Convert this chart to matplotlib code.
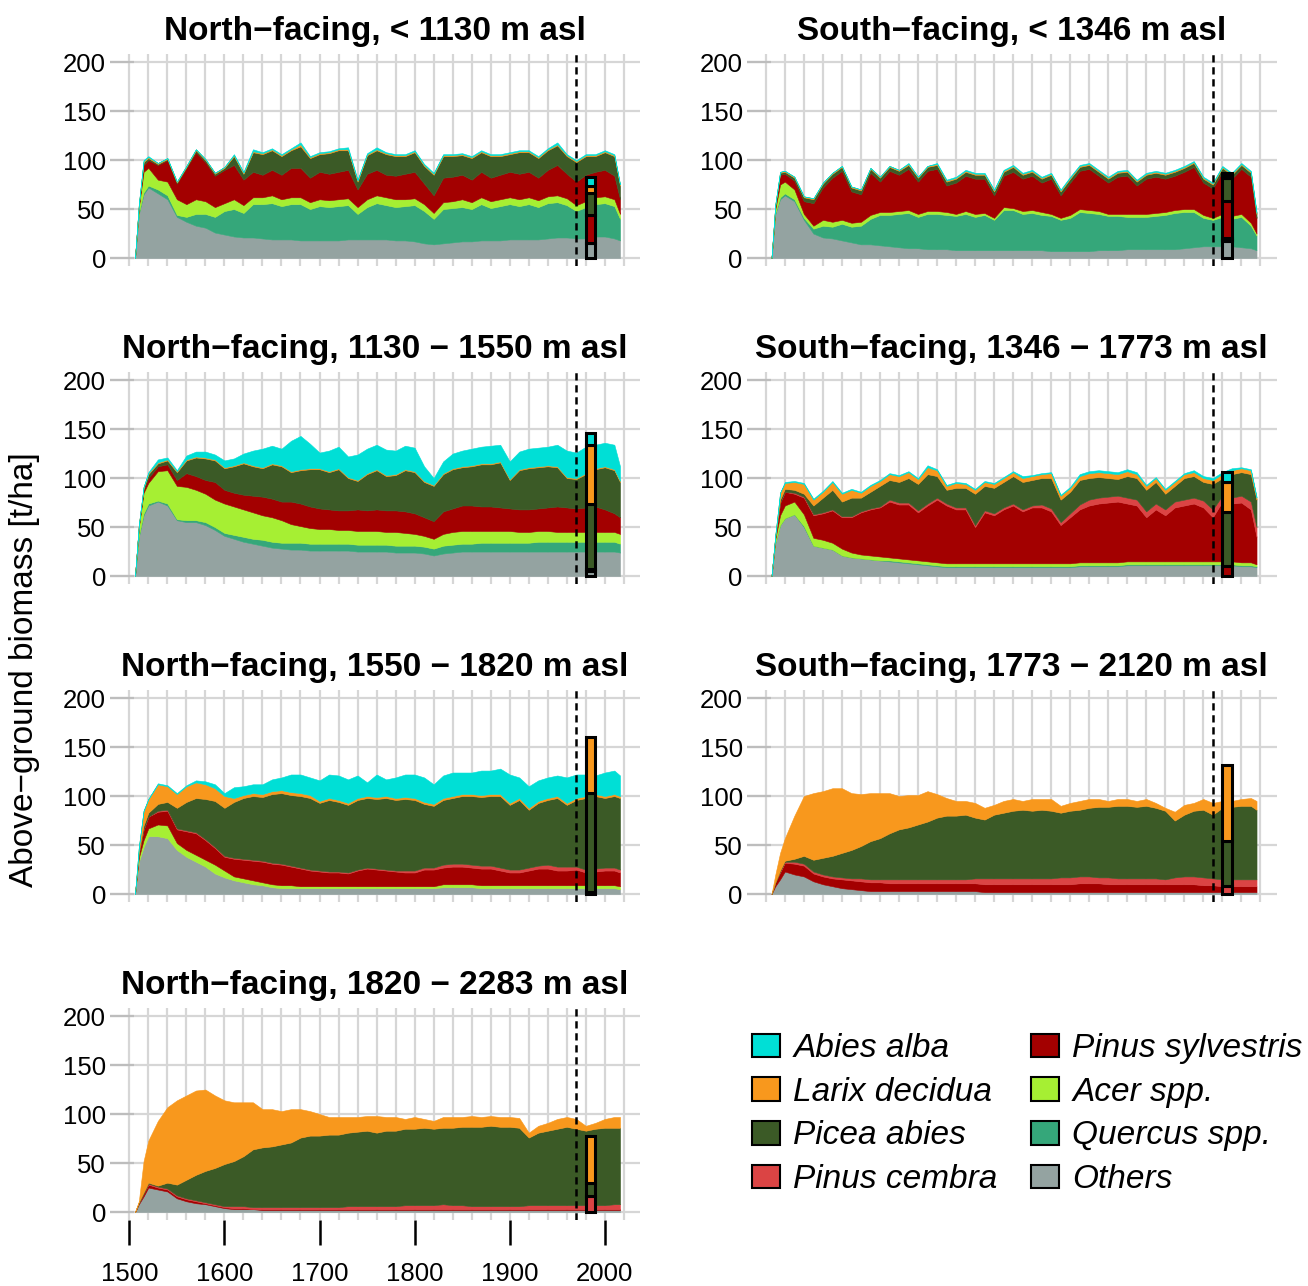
import numpy as np
import matplotlib.pyplot as plt
from matplotlib.patches import Patch

plt.rcParams['font.family'] = ['Liberation Sans', 'DejaVu Sans']

# simulation years (first = start of the run)
years = [1506, 1510, 1515, 1520,
         1530, 1540, 1550, 1560, 1570, 1580, 1590, 1600,
         1610, 1620, 1630, 1640, 1650, 1660, 1670, 1680, 1690, 1700,
         1710, 1720, 1730, 1740, 1750, 1760, 1770, 1780, 1790, 1800,
         1810, 1820, 1830, 1840, 1850, 1860, 1870, 1880, 1890, 1900,
         1910, 1920, 1930, 1940, 1950, 1960, 1970, 1980, 1990, 2000,
         2010, 2016]

species = ["Others", "Quercus spp.", "Acer spp.", "Pinus sylvestris",
           "Pinus cembra", "Picea abies", "Larix decidua", "Abies alba"]
colours = {"Others": "#94A3A1", "Quercus spp.": "#35A77A", "Acer spp.": "#A6EF33",
           "Pinus sylvestris": "#A30000", "Pinus cembra": "#DB4444",
           "Picea abies": "#3B5A26", "Larix decidua": "#F8981D", "Abies alba": "#00DFD6"}

# values below = upper edge of each stacked band (cumulative biomass, t/ha)
# ---- North-facing, < 1130 m
n1_others = [0, 45, 65, 72, 66, 60, 42, 37, 33, 31, 26, 24,
             22, 21, 21, 20, 19, 19, 19, 18, 18, 18, 18, 18, 19, 19, 19, 19, 19, 18, 18, 17,
             15, 14, 15, 16, 17, 17, 18, 18, 18, 19, 19, 19, 19, 20, 21, 21, 20, 20, 22, 22, 20, 18]
n1_quercus = [0, 46, 67, 74, 70, 64, 44, 42, 45, 45, 42, 48,
              50, 46, 55, 55, 56, 53, 55, 55, 50, 53, 52, 53, 54, 45, 52, 56, 54, 52, 53, 54,
              48, 40, 50, 51, 52, 50, 55, 51, 53, 55, 53, 55, 52, 56, 57, 54, 48, 52, 55, 56, 53, 40]
n1_acer = [0, 52, 88, 92, 80, 78, 60, 55, 60, 58, 52, 56,
           60, 54, 62, 62, 64, 60, 62, 62, 57, 60, 59, 60, 61, 52, 60, 64, 62, 60, 60, 61,
           55, 46, 57, 58, 60, 57, 62, 58, 60, 62, 60, 62, 59, 63, 64, 61, 54, 58, 62, 63, 60, 45]
n1_sylv = [0, 53, 95, 100, 95, 100, 76, 92, 108, 98, 84, 90,
           95, 80, 88, 85, 90, 85, 92, 92, 82, 88, 86, 88, 90, 70, 86, 90, 85, 84, 86, 88,
           76, 64, 82, 83, 85, 80, 88, 82, 85, 88, 86, 88, 82, 90, 95, 86, 78, 85, 88, 90, 84, 60]
n1_picea = [0, 54, 98, 102, 96, 101, 77, 93, 110, 100, 86, 92,
            104, 86, 108, 106, 110, 104, 110, 114, 102, 106, 107, 110, 110, 78, 105, 110, 106, 104, 104, 108,
            94, 85, 104, 104, 105, 102, 108, 104, 104, 106, 108, 108, 102, 110, 115, 104, 98, 104, 104, 108, 104, 74]
n1_larix = [0, 55, 99, 103, 97, 102, 78, 94, 111, 101, 87, 93,
            105, 87, 109, 107, 111, 105, 111, 116, 103, 107, 108, 111, 111, 79, 106, 111, 107, 105, 105, 109,
            95, 86, 105, 105, 106, 103, 109, 105, 105, 107, 109, 109, 103, 111, 116, 105, 99, 105, 105, 109, 105, 75]
n1_abies = [0, 55, 100, 104, 97, 102, 78, 94, 111, 101, 87, 93,
            106, 88, 111, 108, 112, 106, 112, 118, 104, 108, 109, 112, 113, 80, 107, 113, 108, 106, 106, 110,
            96, 87, 106, 106, 107, 104, 110, 106, 106, 108, 110, 110, 104, 112, 118, 106, 100, 106, 106, 110, 106, 75]

# ---- South-facing, < 1346 m
s1_others = [0, 45, 60, 64, 58, 39, 25, 21, 20, 18, 16, 14,
             14, 13, 12, 11, 10, 10, 9, 9, 9, 8, 8, 8, 8, 8, 8, 8, 8, 8, 8, 7,
             7, 7, 7, 7, 8, 8, 8, 9, 9, 9, 9, 9, 9, 10, 11, 12, 12, 12, 12, 11, 10, 8]
s1_quercus = [0, 46, 62, 66, 60, 41, 30, 33, 32, 35, 32, 33,
              40, 44, 44, 45, 46, 42, 45, 45, 44, 43, 45, 42, 44, 39, 49, 49, 45, 46, 44, 43,
              39, 41, 47, 46, 45, 43, 43, 42, 42, 42, 43, 44, 46, 47, 47, 41, 39, 42, 40, 42, 33, 23]
s1_acer = [0, 50, 75, 78, 70, 45, 33, 39, 37, 39, 36, 37,
           44, 47, 47, 48, 49, 45, 48, 48, 47, 45, 48, 45, 46, 41, 52, 51, 48, 49, 47, 45,
           41, 44, 50, 49, 48, 45, 45, 45, 45, 45, 46, 47, 49, 50, 50, 44, 41, 45, 43, 45, 36, 25]
s1_sylv = [0, 53, 85, 86, 79, 58, 56, 72, 82, 89, 68, 65,
           87, 78, 89, 85, 91, 78, 89, 91, 74, 77, 84, 81, 81, 64, 84, 88, 81, 84, 77, 81,
           64, 77, 89, 91, 84, 77, 83, 84, 74, 81, 83, 81, 84, 88, 93, 77, 71, 88, 81, 91, 83, 41]
s1_picea = [0, 54, 87, 88, 82, 62, 60, 76, 86, 93, 72, 69,
            91, 82, 93, 89, 95, 82, 93, 95, 78, 81, 88, 85, 85, 68, 88, 93, 85, 88, 81, 85,
            68, 81, 93, 95, 88, 81, 87, 88, 78, 85, 87, 85, 88, 92, 97, 81, 75, 92, 85, 95, 87, 45]
s1_larix = [0, 55, 88, 89, 83, 63, 61, 77, 87, 94, 73, 70,
            92, 83, 94, 90, 96, 83, 94, 96, 79, 82, 89, 86, 86, 69, 89, 94, 86, 89, 82, 86,
            69, 82, 94, 96, 89, 82, 88, 89, 79, 86, 88, 86, 89, 93, 98, 82, 76, 93, 86, 96, 88, 46]
s1_abies = [0, 55, 88, 89, 83, 63, 61, 77, 87, 94, 73, 70,
            92, 83, 94, 90, 97, 83, 94, 97, 80, 83, 90, 87, 87, 70, 90, 95, 87, 90, 83, 87,
            70, 83, 95, 97, 90, 83, 89, 90, 80, 87, 89, 87, 90, 94, 99, 83, 77, 94, 87, 97, 89, 47]

# ---- North-facing, 1130 - 1550 m
n2_others = [0, 40, 62, 72, 76, 72, 57, 55, 55, 52, 47, 41,
             38, 35, 33, 31, 29, 28, 27, 27, 26, 26, 26, 26, 26, 25, 25, 25, 25, 24, 24, 24,
             23, 21, 23, 24, 25, 25, 25, 25, 25, 25, 25, 25, 25, 25, 25, 25, 25, 25, 25, 25, 25, 24]
n2_quercus = [0, 41, 64, 74, 77, 74, 58, 57, 57, 55, 50, 44,
              42, 40, 38, 37, 35, 34, 34, 34, 33, 33, 33, 33, 33, 32, 32, 32, 32, 31, 31, 31,
              30, 28, 31, 32, 33, 33, 34, 34, 34, 34, 34, 34, 35, 35, 35, 35, 35, 35, 35, 35, 35, 33]
n2_acer = [0, 50, 85, 95, 107, 108, 92, 91, 88, 84, 78, 74,
           71, 68, 65, 62, 60, 57, 53, 51, 49, 48, 48, 47, 47, 46, 46, 46, 45, 45, 44, 43,
           41, 38, 43, 45, 46, 46, 46, 46, 46, 46, 45, 45, 46, 46, 45, 45, 45, 45, 45, 45, 45, 43]
n2_sylv = [0, 51, 88, 100, 112, 114, 98, 105, 102, 98, 96, 88,
           85, 83, 82, 81, 79, 76, 76, 74, 71, 69, 68, 67, 67, 68, 67, 68, 67, 67, 66, 64,
           60, 56, 66, 69, 72, 72, 71, 71, 70, 69, 68, 68, 69, 70, 71, 70, 69, 70, 71, 68, 64, 60]
n2_picea = [0, 52, 90, 104, 115, 118, 106, 118, 121, 120, 118, 110,
            112, 115, 112, 110, 114, 112, 106, 108, 109, 109, 106, 109, 100, 97, 104, 108, 102, 103, 108, 106,
            96, 92, 104, 109, 111, 112, 114, 114, 116, 98, 108, 110, 111, 112, 111, 100, 99, 104, 109, 111, 108, 96]
n2_larix = [0, 52, 91, 105, 116, 119, 107, 119, 122, 121, 119, 111,
            113, 116, 113, 111, 115, 113, 107, 109, 110, 110, 107, 110, 101, 98, 105, 109, 103, 104, 109, 107,
            97, 93, 105, 110, 112, 113, 115, 115, 117, 99, 109, 111, 112, 113, 112, 101, 100, 105, 110, 112, 109, 97]
n2_abies = [0, 52, 91, 106, 119, 121, 108, 123, 127, 127, 124, 118,
            120, 125, 128, 130, 133, 130, 138, 143, 135, 126, 128, 132, 122, 124, 130, 134, 129, 128, 133, 131,
            112, 100, 117, 125, 128, 130, 132, 133, 134, 117, 127, 130, 131, 132, 134, 128, 126, 132, 134, 136, 134, 112]

# ---- South-facing, 1346 - 1773 m
s2_others = [0, 34, 52, 59, 63, 50, 31, 29, 27, 21, 19, 18,
             17, 16, 15, 14, 13, 12, 11, 10, 9, 9, 9, 9, 9, 9, 9, 9, 9, 9, 9, 9,
             9, 9, 10, 10, 10, 10, 10, 11, 11, 11, 11, 11, 11, 11, 11, 11, 11, 11, 11, 10, 10, 9]
s2_quercus = [0, 34, 52, 59, 63, 51, 31, 29, 27, 21, 19, 18,
              17, 16, 16, 15, 14, 13, 12, 11, 10, 10, 10, 10, 10, 10, 10, 10, 10, 10, 10, 10,
              10, 10, 11, 11, 11, 11, 11, 12, 12, 12, 12, 12, 12, 12, 12, 12, 12, 12, 12, 11, 11, 10]
s2_acer = [0, 38, 62, 72, 76, 63, 39, 37, 34, 28, 24, 22,
           21, 20, 19, 18, 17, 16, 15, 14, 13, 13, 13, 13, 13, 13, 13, 13, 13, 13, 13, 13,
           13, 13, 14, 14, 14, 14, 14, 15, 15, 15, 15, 15, 15, 15, 15, 15, 15, 15, 15, 14, 14, 12]
s2_sylv = [0, 40, 75, 86, 84, 80, 62, 64, 67, 60, 60, 65,
           68, 70, 76, 73, 73, 65, 72, 78, 72, 68, 68, 50, 65, 62, 68, 72, 66, 70, 70, 66,
           52, 60, 68, 72, 74, 75, 76, 74, 72, 60, 68, 62, 70, 72, 74, 70, 60, 76, 74, 75, 68, 40]
s2_cembra = [0, 40, 75, 86, 85, 81, 63, 65, 68, 61, 61, 66,
             69, 71, 78, 75, 75, 67, 74, 80, 74, 70, 70, 52, 67, 64, 70, 74, 68, 72, 73, 69,
             55, 64, 73, 78, 80, 81, 82, 80, 78, 66, 74, 68, 76, 78, 80, 77, 68, 82, 80, 82, 76, 50]
s2_picea = [0, 41, 78, 89, 88, 84, 72, 80, 88, 76, 80, 80,
            86, 92, 98, 96, 100, 94, 104, 102, 88, 90, 90, 84, 92, 90, 96, 102, 96, 98, 100, 100,
            78, 86, 98, 100, 101, 100, 99, 102, 100, 88, 96, 84, 92, 100, 102, 96, 94, 100, 104, 106, 104, 78]
s2_larix = [0, 42, 85, 95, 96, 94, 78, 86, 96, 84, 88, 85,
            92, 97, 104, 102, 106, 99, 111, 108, 92, 95, 94, 88, 96, 94, 100, 106, 100, 102, 104, 105,
            82, 90, 102, 105, 106, 105, 104, 107, 104, 92, 100, 88, 96, 104, 106, 100, 98, 104, 108, 110, 108, 80]
s2_abies = [0, 42, 85, 96, 97, 95, 79, 87, 97, 85, 89, 86,
            93, 98, 105, 103, 107, 100, 113, 109, 93, 96, 95, 89, 97, 95, 101, 107, 102, 103, 105, 106,
            83, 91, 104, 107, 108, 107, 106, 109, 106, 93, 101, 89, 97, 105, 108, 102, 100, 106, 110, 111, 109, 81]

# ---- North-facing, 1550 - 1820 m
n3_others = [0, 33, 48, 59, 59, 57, 45, 38, 33, 28, 21, 17,
             14, 12, 10, 9, 7, 6, 6, 6, 6, 6, 6, 6, 6, 6, 6, 6, 6, 6, 6, 6,
             6, 6, 7, 7, 7, 7, 6, 6, 6, 6, 6, 6, 6, 6, 6, 6, 6, 6, 6, 6, 6, 5]
n3_acer = [0, 37, 55, 67, 71, 70, 52, 45, 40, 35, 30, 24,
           18, 16, 14, 12, 10, 9, 9, 8, 8, 8, 8, 8, 8, 8, 8, 8, 8, 8, 8, 8,
           8, 8, 10, 10, 10, 10, 9, 9, 9, 9, 9, 9, 9, 9, 9, 9, 9, 9, 9, 9, 9, 8]
n3_sylv = [0, 42, 66, 79, 84, 85, 66, 64, 62, 55, 47, 38,
           36, 35, 34, 33, 31, 30, 28, 26, 24, 23, 22, 22, 21, 24, 26, 25, 24, 23, 22, 22,
           25, 25, 27, 28, 28, 27, 26, 26, 24, 22, 22, 24, 26, 26, 24, 24, 25, 22, 23, 24, 24, 22]
n3_cembra = [0, 42, 66, 79, 85, 86, 67, 65, 63, 56, 48, 39,
             37, 36, 35, 34, 32, 31, 29, 27, 25, 24, 23, 23, 22, 25, 27, 26, 25, 24, 24, 24,
             27, 27, 30, 31, 31, 30, 29, 29, 27, 25, 25, 27, 29, 30, 28, 28, 28, 25, 26, 27, 27, 25]
n3_picea = [0, 43, 70, 83, 92, 94, 88, 94, 98, 97, 95, 88,
            94, 98, 100, 99, 102, 103, 101, 100, 98, 93, 96, 94, 91, 96, 98, 97, 98, 96, 97, 96,
            92, 90, 96, 98, 100, 100, 99, 100, 100, 91, 96, 86, 93, 96, 98, 91, 96, 98, 100, 98, 100, 98]
n3_larix = [0, 48, 85, 97, 112, 110, 102, 110, 114, 112, 108, 100,
            98, 101, 103, 102, 105, 106, 104, 103, 101, 95, 98, 96, 93, 98, 100, 99, 100, 98, 99, 98,
            94, 92, 98, 100, 102, 102, 101, 102, 102, 93, 98, 88, 95, 98, 100, 93, 98, 100, 102, 100, 102, 100]
n3_abies = [0, 48, 85, 97, 113, 111, 103, 111, 116, 115, 112, 103,
            109, 110, 112, 112, 117, 119, 122, 122, 119, 116, 122, 121, 117, 121, 114, 122, 117, 119, 122, 122,
            119, 112, 121, 124, 124, 124, 126, 126, 128, 122, 119, 110, 116, 119, 121, 119, 122, 122, 121, 124, 126, 121]

# ---- South-facing, 1773 - 2120 m
s3_others = [0, 8, 15, 23, 20, 18, 13, 10, 8, 6, 5, 4,
             3, 3, 3, 3, 3, 3, 3, 3, 3, 3, 3, 3, 2, 2, 2, 2, 2, 2, 2, 2,
             2, 2, 2, 2, 2, 2, 2, 2, 2, 2, 2, 2, 2, 2, 2, 2, 2, 2, 2, 2, 2, 2]
s3_sylv = [0, 12, 22, 32, 31, 29, 21, 18, 16, 15, 14, 13,
           12, 12, 11, 11, 11, 11, 11, 11, 11, 11, 11, 11, 10, 10, 10, 10, 10, 10, 10, 10,
           10, 10, 11, 11, 11, 10, 10, 10, 10, 10, 10, 10, 10, 10, 10, 9, 9, 8, 8, 8, 8, 8]
s3_cembra = [0, 12, 23, 33, 33, 31, 23, 20, 18, 17, 16, 16,
             15, 15, 15, 15, 15, 15, 15, 15, 15, 15, 15, 16, 16, 16, 16, 16, 16, 16, 16, 16,
             17, 17, 18, 18, 17, 17, 16, 16, 16, 16, 16, 15, 17, 18, 18, 17, 16, 15, 15, 15, 15, 15]
s3_picea = [0, 12, 24, 34, 36, 39, 35, 37, 39, 42, 45, 49,
            54, 57, 62, 66, 68, 71, 74, 78, 80, 80, 81, 78, 76, 81, 83, 85, 86, 85, 86, 85,
            83, 85, 86, 88, 89, 89, 90, 90, 89, 90, 88, 85, 75, 81, 85, 86, 81, 88, 89, 90, 90, 86]
s3_larix = [0, 20, 42, 57, 80, 100, 103, 105, 108, 108, 103, 102,
            103, 103, 103, 100, 101, 101, 105, 102, 98, 95, 95, 93, 88, 91, 95, 97, 95, 97, 97, 97,
            90, 93, 95, 97, 97, 95, 97, 97, 95, 97, 93, 88, 84, 91, 93, 97, 93, 95, 95, 97, 98, 95]

# ---- North-facing, 1820 - 2283 m
n4_others = [0, 8, 16, 25, 23, 21, 14, 11, 9, 8, 6, 4,
             3, 3, 3, 2, 2, 2, 2, 2, 2, 2, 2, 2, 2, 2, 2, 2, 2, 2, 2, 2,
             2, 2, 2, 2, 2, 2, 2, 2, 2, 2, 2, 2, 2, 2, 2, 2, 2, 2, 2, 2, 2, 2]
n4_sylv = [0, 9, 19, 28, 25, 23, 16, 13, 11, 9, 7, 5,
           4, 4, 3, 3, 3, 3, 3, 3, 3, 3, 3, 3, 3, 3, 3, 3, 3, 3, 3, 3,
           3, 3, 3, 3, 3, 3, 3, 3, 3, 3, 3, 3, 3, 3, 3, 3, 3, 3, 3, 3, 3, 3]
n4_cembra = [0, 9, 19, 29, 26, 24, 17, 14, 12, 10, 8, 6,
             6, 6, 5, 5, 5, 5, 5, 5, 5, 5, 5, 5, 6, 6, 6, 6, 6, 6, 7, 7,
             7, 7, 8, 7, 7, 6, 6, 6, 6, 6, 6, 7, 7, 7, 7, 7, 7, 7, 7, 7, 8, 8]
n4_picea = [0, 10, 20, 30, 27, 30, 28, 33, 38, 42, 45, 49,
            52, 57, 64, 66, 67, 69, 71, 76, 78, 78, 79, 79, 81, 82, 83, 81, 83, 83, 85, 85,
            86, 85, 86, 86, 87, 87, 87, 88, 87, 87, 86, 76, 81, 83, 85, 87, 85, 83, 85, 86, 86, 86]
n4_larix = [0, 11, 52, 73, 93, 107, 114, 119, 124, 125, 119, 114,
            112, 112, 112, 105, 105, 103, 105, 105, 103, 100, 97, 97, 97, 97, 98, 98, 97, 97, 95, 97,
            95, 93, 97, 97, 97, 98, 97, 98, 97, 97, 96, 81, 88, 91, 95, 97, 95, 88, 91, 95, 97, 97]

# inventory bars (t/ha per species, order as in `species`)
bar_year = 1985
bar_n1 = [15, 0, 0, 29, 0, 22, 8, 9]
bar_s1 = [17, 1, 2, 38, 0, 24, 2, 3]
bar_n2 = [5, 0, 0, 2, 0, 67, 60, 12]
bar_s2 = [0, 0, 0, 10, 0, 55, 31, 10]
bar_n3 = [0, 0, 0, 2, 0, 101, 57, 0]
bar_s3 = [0, 0, 0, 0, 8, 46, 78, 0]
bar_n4 = [0, 0, 0, 0, 16, 14, 48, 0]

panels = [
    ("North\u2212facing, < 1130 m asl",
     [("Others", n1_others), ("Quercus spp.", n1_quercus), ("Acer spp.", n1_acer),
      ("Pinus sylvestris", n1_sylv), ("Picea abies", n1_picea),
      ("Larix decidua", n1_larix), ("Abies alba", n1_abies)], bar_n1),
    ("South\u2212facing, < 1346 m asl",
     [("Others", s1_others), ("Quercus spp.", s1_quercus), ("Acer spp.", s1_acer),
      ("Pinus sylvestris", s1_sylv), ("Picea abies", s1_picea),
      ("Larix decidua", s1_larix), ("Abies alba", s1_abies)], bar_s1),
    ("North\u2212facing, 1130 \u2212 1550 m asl",
     [("Others", n2_others), ("Quercus spp.", n2_quercus), ("Acer spp.", n2_acer),
      ("Pinus sylvestris", n2_sylv), ("Picea abies", n2_picea),
      ("Larix decidua", n2_larix), ("Abies alba", n2_abies)], bar_n2),
    ("South\u2212facing, 1346 \u2212 1773 m asl",
     [("Others", s2_others), ("Quercus spp.", s2_quercus), ("Acer spp.", s2_acer),
      ("Pinus sylvestris", s2_sylv), ("Pinus cembra", s2_cembra), ("Picea abies", s2_picea),
      ("Larix decidua", s2_larix), ("Abies alba", s2_abies)], bar_s2),
    ("North\u2212facing, 1550 \u2212 1820 m asl",
     [("Others", n3_others), ("Acer spp.", n3_acer), ("Pinus sylvestris", n3_sylv),
      ("Pinus cembra", n3_cembra), ("Picea abies", n3_picea),
      ("Larix decidua", n3_larix), ("Abies alba", n3_abies)], bar_n3),
    ("South\u2212facing, 1773 \u2212 2120 m asl",
     [("Others", s3_others), ("Pinus sylvestris", s3_sylv), ("Pinus cembra", s3_cembra),
      ("Picea abies", s3_picea), ("Larix decidua", s3_larix)], bar_s3),
    ("North\u2212facing, 1820 \u2212 2283 m asl",
     [("Others", n4_others), ("Pinus sylvestris", n4_sylv), ("Pinus cembra", n4_cembra),
      ("Picea abies", n4_picea), ("Larix decidua", n4_larix)], bar_n4),
]

# --------------------------------------------
W, H = 1308, 1286
fig = plt.figure(figsize=(W / 100, H / 100), dpi=100)
font = 18.5
grid_c = "#D6D6D6"

lefts = [110.3, 746.8]
tops = [54.2, 372.2, 690.2, 1008.2]
aw, ah = 529.7, 211.7

for i, (title, layers, bar) in enumerate(panels):
    row, col = divmod(i, 2)
    ax = fig.add_axes([lefts[col] / W, 1 - (tops[row] + ah) / H, aw / W, ah / H])
    ax.set_xlim(1480, 2037)
    ax.set_ylim(-8, 208)
    for s in ax.spines.values():
        s.set_visible(False)

    for gx in range(1500, 2021, 20):
        ax.axvline(gx, color=grid_c, lw=1.6, zorder=0)
    for gy in [0, 50, 100, 150, 200]:
        ax.axhline(gy, color=grid_c, lw=1.6, zorder=0)

    lower = np.zeros(len(years))
    for name, upper in layers:
        upper = np.array(upper, dtype=float)
        ax.fill_between(years, lower, upper, facecolor=colours[name],
                        edgecolor=colours[name], lw=0.4, zorder=2)
        lower = upper

    ax.axvline(1970, color="black", lw=1.8, dashes=(2.9, 1.9), zorder=3)

    base = 0
    for name, amt in zip(species, bar):
        if amt > 0:
            ax.bar(bar_year, amt, width=10, bottom=base, color=colours[name],
                   edgecolor="black", lw=2.2, zorder=4)
        base += amt

    ax.set_yticks([0, 50, 100, 150, 200])
    ax.tick_params(axis='y', direction='in', length=17, width=1.6, color="#BDBDBD",
                   labelsize=font, pad=3)
    if i == len(panels) - 1:
        ax.set_xticks([1500, 1600, 1700, 1800, 1900, 2000])
        ax.tick_params(axis='x', direction='out', length=18, width=1.8, color="black",
                       labelsize=font, pad=12)
    else:
        ax.set_xticks([])
    ax.set_title(title, fontsize=24, fontweight='bold', pad=10)

fig.text(0.019, 0.479, "Above\u2212ground biomass [t/ha]", rotation=90,
         fontsize=24, ha='center', va='center')

order = ["Abies alba", "Larix decidua", "Picea abies", "Pinus cembra",
         "Pinus sylvestris", "Acer spp.", "Quercus spp.", "Others"]
handles = [Patch(facecolor=colours[n], edgecolor="black", lw=1.5) for n in order]
fig.legend(handles, order, ncol=2, loc='upper left', bbox_to_anchor=(0.575, 0.1967),
           frameon=False, prop={'size': 24, 'style': 'italic'},
           handlelength=0.84, handleheight=0.72, handletextpad=0.4,
           columnspacing=1.0, labelspacing=0.38, borderpad=0, borderaxespad=0)

fig.savefig("out.png", dpi=100)
